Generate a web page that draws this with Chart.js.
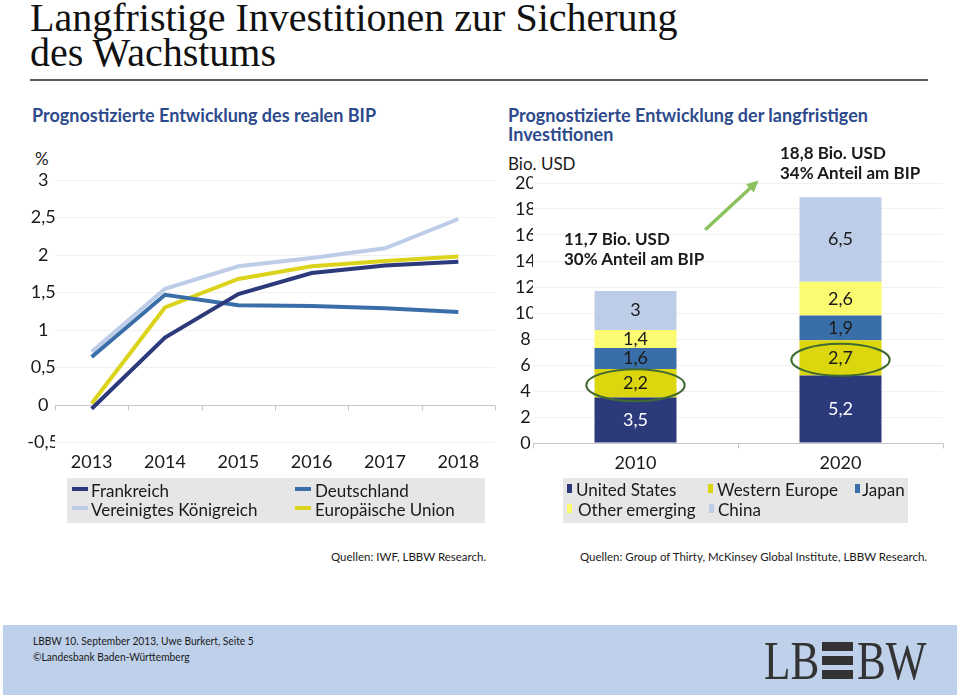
<!DOCTYPE html>
<html lang="de">
<head>
<meta charset="utf-8">
<title>Langfristige Investitionen zur Sicherung des Wachstums</title>
<script src="https://cdn.jsdelivr.net/npm/chart.js@4.4.0/dist/chart.umd.min.js"></script>
<style>
  body { margin: 0; width: 960px; height: 696px; position: relative; overflow: hidden; background: #fff;
         font-family: Lato, "Open Sans", sans-serif; color: #1a1a1a; }
  .abs { position: absolute; white-space: nowrap; }
  #titel { left: 30px; top: 0px; font-family: "Liberation Serif", "DejaVu Serif", serif; font-size: 40px; line-height: 35px; color: #111; }
  #linie { left: 30px; top: 79px; width: 898px; height: 2px; background: #5a5a5a; }
  .sub { font-size: 18px; font-weight: 700; color: #2d4a8c; line-height: 19px; }
  .einheit { font-size: 17px; line-height: 18px; }
  .notiz { font-size: 17px; font-weight: 700; line-height: 20px; color: #1a1a1a; }
  .legende { background: #e6e6e6; }
  .leg { font-size: 17px; line-height: 19px; }
  .swLinie { height: 4px; width: 16px; }
  .swBox { width: 5px; height: 9px; }
  .quelle { font-size: 11.5px; line-height: 14px; }
  #fuss { left: 3px; top: 625px; width: 954px; height: 70px; background: #bfd0ea; }
  .fussText { font-size: 12px; line-height: 16px; transform: scaleX(0.85); transform-origin: left center; }
  .logo { font-family: "Liberation Serif", "DejaVu Serif", serif; font-size: 54px; line-height: 54px; color: #333;
          transform: scaleX(0.8); transform-origin: left top; }
  .logoBalken { width: 31px; height: 9px; background: #333; }
  canvas { position: absolute; }
</style>
</head>
<body>

<div id="titel" class="abs">Langfristige Investitionen zur Sicherung<br>des Wachstums</div>
<div id="linie" class="abs"></div>

<div class="abs sub" style="left:32px; top:106px;">Prognostizierte Entwicklung des realen BIP</div>
<div class="abs sub" style="left:508px; top:106px;">Prognostizierte Entwicklung der langfristigen<br>Investitionen</div>

<div class="abs einheit" style="left:35px; top:150px;">%</div>
<div class="abs einheit" style="left:508px; top:155px;">Bio. USD</div>

<canvas id="bipChart" width="490" height="330" style="left:20px; top:150px;"></canvas>
<canvas id="invChart" width="460" height="330" style="left:500px; top:150px;"></canvas>

<div class="abs notiz" style="left:564px; top:229px;">11,7 Bio. USD<br>30% Anteil am BIP</div>
<div class="abs notiz" style="left:780px; top:143px;">18,8 Bio. USD<br>34% Anteil am BIP</div>

<!-- Legende links -->
<div class="abs legende" style="left:67px; top:478px; width:418px; height:45px;"></div>
<div class="abs swLinie" style="left:72px; top:487px; background:#2c3a7c;"></div>
<div class="abs leg" style="left:91px; top:481px;">Frankreich</div>
<div class="abs swLinie" style="left:72px; top:506px; background:#bdcde8;"></div>
<div class="abs leg" style="left:91px; top:500px;">Vereinigtes Königreich</div>
<div class="abs swLinie" style="left:295px; top:487px; background:#3a6ea8;"></div>
<div class="abs leg" style="left:315px; top:481px;">Deutschland</div>
<div class="abs swLinie" style="left:295px; top:506px; background:#dcd31c;"></div>
<div class="abs leg" style="left:315px; top:500px;">Europäische Union</div>

<!-- Legende rechts -->
<div class="abs legende" style="left:563px; top:478px; width:345px; height:45px;"></div>
<div class="abs swBox" style="left:567px; top:484px; background:#2c3a7c;"></div>
<div class="abs leg" style="left:576px; top:480px;">United States</div>
<div class="abs swBox" style="left:708px; top:484px; background:#dcd60f;"></div>
<div class="abs leg" style="left:717px; top:480px;">Western Europe</div>
<div class="abs swBox" style="left:855px; top:484px; background:#3a6ea8;"></div>
<div class="abs leg" style="left:862px; top:480px;">Japan</div>
<div class="abs swBox" style="left:567px; top:504px; background:#fbfb72;"></div>
<div class="abs leg" style="left:578px; top:500px;">Other emerging</div>
<div class="abs swBox" style="left:709px; top:504px; background:#bdcde8;"></div>
<div class="abs leg" style="left:718px; top:500px;">China</div>

<div class="abs quelle" style="left:331px; top:550px;">Quellen: IWF, LBBW Research.</div>
<div class="abs quelle" style="left:580px; top:550px;">Quellen: Group of Thirty, McKinsey Global Institute, LBBW Research.</div>

<!-- Fußzeile -->
<div id="fuss" class="abs"></div>
<div class="abs fussText" style="left:33px; top:633px;">LBBW 10. September 2013, Uwe Burkert, Seite 5</div>
<div class="abs fussText" style="left:33px; top:649px;">©Landesbank Baden-Württemberg</div>
<div class="abs logo" style="left:764px; top:634px;">LB</div>
<div class="abs logoBalken" style="left:822px; top:642px;"></div>
<div class="abs logoBalken" style="left:822px; top:656px;"></div>
<div class="abs logoBalken" style="left:822px; top:670px;"></div>
<div class="abs logo" style="left:857px; top:634px;">BW</div>

<script>
// 📊 Daten – Prognostizierte Entwicklung des realen BIP (%)
const bipJahre = ['2013', '2014', '2015', '2016', '2017', '2018'];
const bipFrankreich = [-0.05, 0.90, 1.48, 1.76, 1.86, 1.91];
const bipDeutschland = [0.64, 1.47, 1.33, 1.32, 1.29, 1.24];
const bipVereinigtesKoenigreich = [0.71, 1.55, 1.85, 1.96, 2.09, 2.48];
const bipEuropaeischeUnion = [0.02, 1.30, 1.68, 1.85, 1.92, 1.98];
const bipTicks = [-0.5, 0, 0.5, 1, 1.5, 2, 2.5, 3];

// 📊 Daten – langfristige Investitionen (Bio. USD)
const invJahre = ['2010', '2020'];
const invUnitedStates = [3.5, 5.2];
const invWesternEurope = [2.2, 2.7];
const invJapan = [1.6, 1.9];
const invOtherEmerging = [1.4, 2.6];
const invChina = [3, 6.5];
const invTicks = [0, 2, 4, 6, 8, 10, 12, 14, 16, 18, 20];

// Farben
const NAVY = '#2c3a7c';
const BLAU = '#3a6ea8';
const HELLBLAU = '#bdcde8';
const GELB = '#dcd31c';
const GELB_BALKEN = '#dcd60f';
const HELLGELB = '#fbfb72';

Chart.defaults.font.family = 'Lato, "Open Sans", sans-serif';
Chart.defaults.font.size = 18;
Chart.defaults.color = '#1a1a1a';

const formatDe = (v) => String(v).replace('.', ',');

/**
 * Nulllinie mit kleinen Strichen an den Kategoriegrenzen
 */
const nullLinie = {
  id: 'nullLinie',
  beforeDatasetsDraw(chart) {
    const { ctx, chartArea, scales: { x, y } } = chart;
    const py = Math.round(y.getPixelForValue(0)) + 0.5;
    ctx.save();
    ctx.strokeStyle = '#c6c6c6';
    ctx.lineWidth = 1;
    ctx.beginPath();
    ctx.moveTo(chartArea.left, py);
    ctx.lineTo(chartArea.right, py);
    for (let i = 0; i <= x.ticks.length; i++) {
      const px = Math.round(x.getPixelForValue(i - 0.5)) + 0.5;
      ctx.moveTo(px, py);
      ctx.lineTo(px, py + 5);
    }
    ctx.stroke();
    ctx.restore();
  }
};

/**
 * Werte in die Balkensegmente schreiben
 */
const segmentWerte = {
  id: 'segmentWerte',
  afterDatasetsDraw(chart) {
    const { ctx } = chart;
    ctx.save();
    ctx.font = '18px Lato, "Open Sans", sans-serif';
    ctx.textAlign = 'center';
    ctx.textBaseline = 'middle';
    chart.data.datasets.forEach((ds, i) => {
      chart.getDatasetMeta(i).data.forEach((bar, j) => {
        ctx.fillStyle = ds.textFarbe || '#1a1a1a';
        ctx.fillText(formatDe(ds.data[j]), bar.x, (bar.y + bar.base) / 2);
      });
    });
    ctx.restore();
  }
};

/**
 * Ellipsen um die markierten Segmente (Western Europe)
 */
const ellipsen = {
  id: 'ellipsen',
  afterDatasetsDraw(chart) {
    const { ctx } = chart;
    ctx.save();
    ctx.strokeStyle = '#3f6a30';
    ctx.lineWidth = 2;
    chart.data.datasets.forEach((ds, i) => {
      if (!ds.markiert) return;
      chart.getDatasetMeta(i).data.forEach((bar) => {
        ctx.beginPath();
        ctx.ellipse(bar.x, (bar.y + bar.base) / 2 + 2, bar.width * 0.6, 16, 0, 0, Math.PI * 2);
        ctx.stroke();
      });
    });
    ctx.restore();
  }
};

/**
 * Grüner Pfeil zwischen den beiden Balken
 */
const pfeil = {
  id: 'pfeil',
  afterDraw(chart, args, opts) {
    const { ctx, scales: { x, y } } = chart;
    const x1 = x.getPixelForValue(opts.von[0]);
    const y1 = y.getPixelForValue(opts.von[1]);
    const x2 = x.getPixelForValue(opts.bis[0]);
    const y2 = y.getPixelForValue(opts.bis[1]);
    const a = Math.atan2(y2 - y1, x2 - x1);
    const spitze = 13;
    ctx.save();
    ctx.strokeStyle = opts.farbe;
    ctx.fillStyle = opts.farbe;
    ctx.lineWidth = 3.5;
    ctx.beginPath();
    ctx.moveTo(x1, y1);
    ctx.lineTo(x2 - Math.cos(a) * spitze * 0.8, y2 - Math.sin(a) * spitze * 0.8);
    ctx.stroke();
    ctx.beginPath();
    ctx.moveTo(x2, y2);
    ctx.lineTo(x2 - spitze * Math.cos(a - 0.45), y2 - spitze * Math.sin(a - 0.45));
    ctx.lineTo(x2 - spitze * Math.cos(a + 0.45), y2 - spitze * Math.sin(a + 0.45));
    ctx.closePath();
    ctx.fill();
    ctx.restore();
  }
};

function linie(label, data, farbe, order) {
  return {
    label, data, order,
    borderColor: farbe,
    backgroundColor: farbe,
    borderWidth: 4,
    pointRadius: 0,
    tension: 0,
    fill: false
  };
}

// Linienchart – reales BIP
new Chart(document.getElementById('bipChart').getContext('2d'), {
  type: 'line',
  data: {
    labels: bipJahre,
    datasets: [
      linie('Frankreich', bipFrankreich, NAVY, 0),
      linie('Deutschland', bipDeutschland, BLAU, 1),
      linie('Europäische Union', bipEuropaeischeUnion, GELB, 2),
      linie('Vereinigtes Königreich', bipVereinigtesKoenigreich, HELLBLAU, 3)
    ]
  },
  options: {
    responsive: false,
    animation: false,
    devicePixelRatio: 1,
    layout: { padding: { top: 30, right: 15, left: 0, bottom: 0 } },
    plugins: { legend: { display: false }, tooltip: { enabled: false } },
    scales: {
      x: {
        offset: true,
        grid: { display: false, drawTicks: false },
        border: { display: false },
        ticks: { padding: 9 },
        afterFit: (s) => { s.height = 37.5; }
      },
      y: {
        min: bipTicks[0],
        max: bipTicks[bipTicks.length - 1],
        ticks: { stepSize: bipTicks[1] - bipTicks[0], crossAlign: 'center', padding: -4, callback: (v) => formatDe(v) },
        grid: { color: '#f1f1f1', drawTicks: false },
        border: { display: false },
        afterFit: (s) => { s.width = 35; }
      }
    }
  },
  plugins: [nullLinie]
});

function balken(label, data, farbe, extra) {
  return Object.assign({
    label, data,
    backgroundColor: farbe,
    borderWidth: 0,
    barPercentage: 0.4,
    categoryPercentage: 1
  }, extra || {});
}

// Gestapeltes Säulendiagramm – Investitionen
new Chart(document.getElementById('invChart').getContext('2d'), {
  type: 'bar',
  data: {
    labels: invJahre,
    datasets: [
      balken('United States', invUnitedStates, NAVY, { textFarbe: '#ffffff' }),
      balken('Western Europe', invWesternEurope, GELB_BALKEN, { markiert: true }),
      balken('Japan', invJapan, BLAU),
      balken('Other emerging', invOtherEmerging, HELLGELB),
      balken('China', invChina, HELLBLAU)
    ]
  },
  options: {
    responsive: false,
    animation: false,
    devicePixelRatio: 1,
    layout: { padding: { top: 33, right: 17, left: 0, bottom: 0 } },
    plugins: {
      legend: { display: false },
      tooltip: { enabled: false },
      pfeil: { von: [0.34, 16.4], bis: [0.60, 20.2], farbe: '#8cc25e' }
    },
    scales: {
      x: {
        stacked: true,
        grid: { display: false, drawTicks: false },
        border: { display: false },
        ticks: { padding: 9 },
        afterFit: (s) => { s.height = 37; }
      },
      y: {
        stacked: true,
        min: invTicks[0],
        max: invTicks[invTicks.length - 1],
        ticks: { stepSize: invTicks[1] - invTicks[0], crossAlign: 'center', padding: -3 },
        grid: { color: '#f1f1f1', drawTicks: false },
        border: { display: false },
        afterFit: (s) => { s.width = 33; }
      }
    }
  },
  plugins: [nullLinie, ellipsen, segmentWerte, pfeil]
});

console.log('✅ Charts geladen');
</script>
</body>
</html>
